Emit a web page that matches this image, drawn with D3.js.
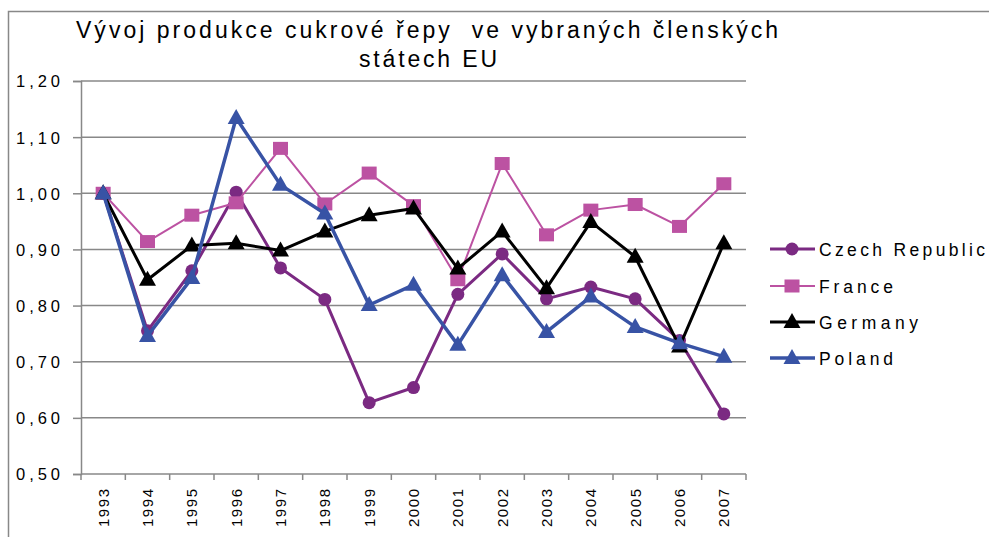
<!DOCTYPE html>
<html>
<head>
<meta charset="utf-8">
<script src="https://cdn.jsdelivr.net/npm/d3@7"></script>
<style>
  body { margin: 0; background: #fff; }
  svg { display: block; font-family: "Liberation Sans", Arial, sans-serif; }
</style>
</head>
<body>
<svg id="chart" width="989" height="537"></svg>
<script>
// data
var years = ["1993","1994","1995","1996","1997","1998","1999","2000","2001","2002","2003","2004","2005","2006","2007"];
var czech   = [1.00, 0.755, 0.862, 1.002, 0.867, 0.811, 0.627, 0.654, 0.820, 0.892, 0.812, 0.833, 0.812, 0.738, 0.607];
var france  = [1.00, 0.914, 0.961, 0.983, 1.080, 0.981, 1.036, 0.978, 0.846, 1.053, 0.926, 0.970, 0.980, 0.941, 1.017];
var germany = [1.00, 0.846, 0.907, 0.911, 0.898, 0.932, 0.961, 0.973, 0.866, 0.932, 0.831, 0.949, 0.887, 0.727, 0.911];
var poland  = [1.00, 0.746, 0.849, 1.134, 1.015, 0.964, 0.801, 0.837, 0.730, 0.854, 0.753, 0.816, 0.762, 0.733, 0.709];
var yTicks = [0.5, 0.6, 0.7, 0.8, 0.9, 1.0, 1.1, 1.2];
var seriesNames = ["Czech Republic", "France", "Germany", "Poland"];

var series = [
  {name: seriesNames[0], values: czech,   color: "#7b2a82", width: 3,   marker: "circle"},
  {name: seriesNames[1], values: france,  color: "#bc52a2", width: 2,   marker: "square"},
  {name: seriesNames[2], values: germany, color: "#000000", width: 3,   marker: "triangle"},
  {name: seriesNames[3], values: poland,  color: "#3853a5", width: 3.5, marker: "triangle"}
];

var svg = d3.select("#chart");
var grey = "#888888";
var ink = "#000";

// outer chart border
svg.append("rect")
    .attr("x", 8.5).attr("y", 11.5)
    .attr("width", 1000).attr("height", 600)
    .attr("fill", "none").attr("stroke", grey).attr("stroke-width", 1.5);

var x = d3.scaleBand().domain(years).range([81, 746]);
var y = d3.scaleLinear().domain([0.5, 1.2]).range([474, 81]);

// gridlines
svg.append("g").selectAll("line.grid").data(yTicks.slice(1)).enter().append("line")
    .classed("grid", true)
    .attr("x1", 81).attr("x2", 746)
    .attr("y1", function(d) { return y(d); })
    .attr("y2", function(d) { return y(d); })
    .attr("stroke", grey).attr("stroke-width", 1.5);

// y axis
var yAxis = svg.append("g").attr("transform", "translate(81,0)")
    .call(d3.axisLeft(y).tickValues(yTicks).tickSize(8).tickPadding(13)
      .tickFormat(function(d) { return d3.format(".2f")(d).replace(".", ","); }));
yAxis.select(".domain").attr("stroke", grey).attr("stroke-width", 1.5);
yAxis.selectAll(".tick line").attr("stroke", grey).attr("stroke-width", 1.5);
yAxis.selectAll(".tick text")
    .attr("font-size", 16.5).attr("fill", ink)
    .attr("font-family", "Liberation Sans, Arial, sans-serif")
    .attr("textLength", 44).attr("lengthAdjust", "spacing")
    .attr("dy", "0.36em");

// x axis: ticks sit on band edges, labels in band centres
var xAxis = svg.append("g").attr("transform", "translate(0,474)");
xAxis.append("line").attr("x1", 81).attr("x2", 746)
    .attr("stroke", grey).attr("stroke-width", 1.5);
var edges = years.map(function(d) { return x(d); }).concat([x.range()[1]]);
xAxis.selectAll("line.tick").data(edges).enter().append("line")
    .classed("tick", true)
    .attr("x1", function(d) { return d; }).attr("x2", function(d) { return d; })
    .attr("y1", 0).attr("y2", 6)
    .attr("stroke", grey).attr("stroke-width", 1.5);
xAxis.selectAll("text").data(years).enter().append("text")
    .attr("transform", function(d) {
      return "translate(" + (x(d) + x.bandwidth() / 2 + 5.5) + ",53) rotate(-90)";
    })
    .attr("font-size", 15).attr("fill", ink)
    .attr("textLength", 38).attr("lengthAdjust", "spacing")
    .text(function(d) { return d; });

// title
var title = svg.append("g").attr("fill", ink).attr("font-size", 23).attr("text-anchor", "middle");
title.append("text").attr("x", 427).attr("y", 38)
    .attr("textLength", 702).attr("lengthAdjust", "spacing")
    .text("Vývoj produkce cukrové řepy\u00a0 ve vybraných členských");
title.append("text").attr("x", 428).attr("y", 67)
    .attr("textLength", 138).attr("lengthAdjust", "spacing")
    .text("státech EU");

function drawMarker(g, type, cx, cy, color) {
  if (type === "circle") {
    g.append("circle").attr("cx", cx).attr("cy", cy).attr("r", 6.5).attr("fill", color);
  } else if (type === "square") {
    g.append("rect").attr("x", cx - 7.5).attr("y", cy - 6.5)
        .attr("width", 15).attr("height", 13).attr("fill", color);
  } else {
    g.append("path")
        .attr("d", "M" + cx + "," + (cy - 9) + "L" + (cx + 8.5) + "," + (cy + 6) + "L" + (cx - 8.5) + "," + (cy + 6) + "Z")
        .attr("fill", color);
  }
}

var line = d3.line()
    .x(function(d, i) { return x(years[i]) + x.bandwidth() / 2; })
    .y(function(d) { return y(d); });

series.forEach(function(s) {
  var g = svg.append("g");
  g.append("path").datum(s.values)
      .attr("d", line)
      .attr("fill", "none")
      .attr("stroke", s.color)
      .attr("stroke-width", s.width)
      .attr("stroke-linejoin", "round");
  s.values.forEach(function(v, i) {
    drawMarker(g, s.marker, x(years[i]) + x.bandwidth() / 2, y(v), s.color);
  });
});

// legend
var legendY = [249, 286, 322, 358];
var legendLen = [166, 74, 99, 74];
var legend = svg.append("g");
series.forEach(function(s, i) {
  var ly = legendY[i];
  legend.append("line").attr("x1", 770).attr("x2", 815)
      .attr("y1", ly).attr("y2", ly)
      .attr("stroke", s.color).attr("stroke-width", s.width);
  drawMarker(legend, s.marker, 792, ly, s.color);
  legend.append("text").attr("x", 819).attr("y", ly + 6.5)
      .attr("font-size", 17.5).attr("fill", ink)
      .attr("textLength", legendLen[i]).attr("lengthAdjust", "spacing")
      .text(s.name);
});
</script>
</body>
</html>
